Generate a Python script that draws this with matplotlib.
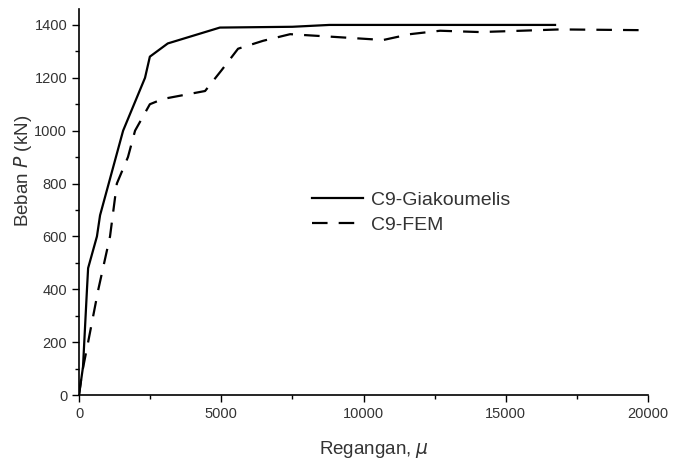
import numpy as np
import matplotlib.pyplot as plt

# Data
strain_giak = [0, 140, 280, 320, 630, 740, 1550, 2320, 2490, 3120, 4950, 7500, 8800, 16730]
load_giak = [0, 106, 400, 480, 600, 680, 1000, 1200, 1280, 1330, 1390, 1393, 1400, 1400]

strain_fem = [0, 100, 320, 680, 1090, 1330, 1720, 1970, 2490, 2950, 4430, 5020, 5590,
              6470, 7420, 8930, 10690, 11630, 12690, 14090, 15250, 16900, 20000]
load_fem = [0, 80, 200, 400, 600, 800, 900, 1000, 1100, 1120, 1150, 1230, 1310,
            1340, 1365, 1355, 1343, 1365, 1378, 1373, 1377, 1383, 1380]

plt.rcParams['font.family'] = ['Liberation Sans', 'DejaVu Sans']

fig = plt.figure(figsize=(6.73, 4.65), dpi=100)
ax = fig.add_axes([0.1174, 0.1505, 0.8456, 0.83])

ax.plot(strain_giak, load_giak, color='k', lw=1.6, label='C9-Giakoumelis')
ax.plot(strain_fem, load_fem, color='k', lw=1.6, ls=(0, (7, 5)), label='C9-FEM')

ax.set_xlim(0, 20000)
ax.set_ylim(0, 1460)
ax.set_xticks([0, 5000, 10000, 15000, 20000])
ax.set_xticks([2500, 7500, 12500, 17500], minor=True)
ax.set_yticks(np.arange(0, 1401, 200))
ax.set_yticks(np.arange(100, 1401, 200), minor=True)

for s in ['top', 'right']:
    ax.spines[s].set_visible(False)
ax.spines['left'].set_linewidth(1.2)
ax.spines['bottom'].set_linewidth(1.2)
ax.tick_params(which='major', direction='out', length=5, width=1, labelsize=10.5,
               labelcolor='#333333')
ax.tick_params(which='minor', direction='out', length=3, width=1)

ax.set_xlabel(r'Regangan, $\mu$', fontsize=13.5, color='#333333')
ax.set_ylabel(r'Beban $P$ (kN)', fontsize=13.5, color='#333333')
ax.xaxis.set_label_coords(0.518, -0.113)
ax.yaxis.set_label_coords(-0.079, 0.58)

ax.legend(loc='upper left', bbox_to_anchor=(0.41, 0.527), frameon=False,
          fontsize=14, handlelength=2.6, handletextpad=0.4, labelspacing=0.38,
          borderpad=0, borderaxespad=0, labelcolor='#333333')

fig.savefig('out.png', dpi=100)
